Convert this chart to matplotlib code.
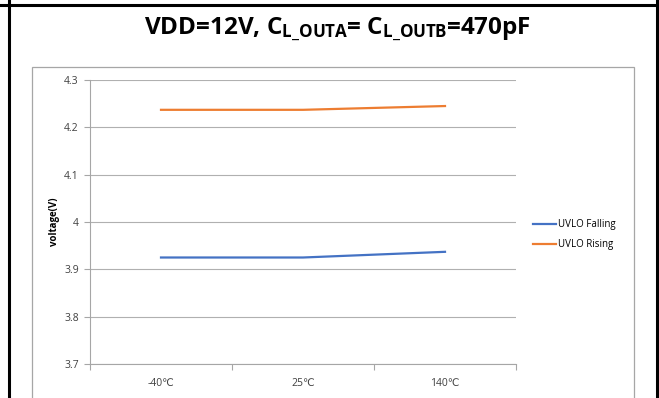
import matplotlib
matplotlib.use("Agg")
import matplotlib.pyplot as plt
from matplotlib.lines import Line2D
from matplotlib.patches import Rectangle

# data
temps = ["-40℃", "25℃", "140℃"]
uvlo_falling = [3.925, 3.925, 3.937]
uvlo_rising = [4.237, 4.237, 4.245]
y_ticks = [3.7, 3.8, 3.9, 4.0, 4.1, 4.2, 4.3]
y_tick_labels = ["3.7", "3.8", "3.9", "4", "4.1", "4.2", "4.3"]

plt.rcParams["font.family"] = ["Open Sans", "DejaVu Sans"]
plt.rcParams["mathtext.fontset"] = "custom"
plt.rcParams["mathtext.rm"] = "Open Sans:bold"
plt.rcParams["mathtext.it"] = "Open Sans:bold"
plt.rcParams["mathtext.bf"] = "Open Sans:bold"

W, H = 659, 398
fig = plt.figure(figsize=(W / 100, H / 100), dpi=100)

# outer frame (black table border) and chart area box
for xy in ([(8.5 / W, 8.5 / W), (0, 1)], [(656.5 / W, 656.5 / W), (0, 1)],
           [(0, 1), (1 - 5 / H, 1 - 5 / H)]):
    fig.add_artist(Line2D(xy[0], xy[1], color="black", lw=2.2,
                          transform=fig.transFigure))
fig.add_artist(Rectangle((32 / W, -0.05), (634 - 32) / W, 1.05 - 67 / H,
                         transform=fig.transFigure, fill=False,
                         edgecolor="#a6a6a6", lw=0.9))

fig.text(337 / W, 1 - 30 / H,
         r"VDD=12V, C$_{\mathrm{L\_OUTA}}$= C$_{\mathrm{L\_OUTB}}$=470pF",
         ha="center", va="center", fontsize=17.5, fontweight="bold")

ax = fig.add_axes([90 / W, 1 - 364 / H, 426 / W, 284 / H])
x = list(range(len(temps)))
ax.plot(x, uvlo_falling, color="#4472C4", lw=1.6, label="UVLO Falling")
ax.plot(x, uvlo_rising, color="#ED7D31", lw=1.6, label="UVLO Rising")

ax.set_xlim(-0.5, len(temps) - 0.5)
ax.set_ylim(3.7, 4.3)
ax.set_yticks(y_ticks)
ax.set_yticklabels(y_tick_labels)
ax.set_xticks([i - 0.5 for i in range(len(temps) + 1)])
ax.set_xticklabels([])
ax.set_xticks(x, minor=True)
ax.set_xticklabels(temps, minor=True)
ax.tick_params(axis="x", which="major", length=4, color="#a6a6a6", width=0.8)
ax.tick_params(axis="x", which="minor", length=0, pad=10,
               labelsize=7.5, labelcolor="#404040")
ax.tick_params(axis="y", length=4, color="#a6a6a6", width=0.8,
               labelsize=7.5, labelcolor="#404040", pad=4)

ax.grid(axis="y", color="#b0b0b0", lw=0.8)
ax.set_axisbelow(True)
for s in ["top", "right"]:
    ax.spines[s].set_visible(False)
for s in ["left", "bottom"]:
    ax.spines[s].set_color("#a6a6a6")
    ax.spines[s].set_linewidth(0.8)

ax.set_ylabel("voltage(V)", fontsize=7, fontweight="bold", labelpad=3)

ax.legend(loc="center left", bbox_to_anchor=(1.04, 0.455), frameon=False,
          fontsize=7, handlelength=2.4, handletextpad=0.2, labelspacing=0.9,
          borderpad=0, borderaxespad=0)

fig.savefig("out.png", dpi=100)
